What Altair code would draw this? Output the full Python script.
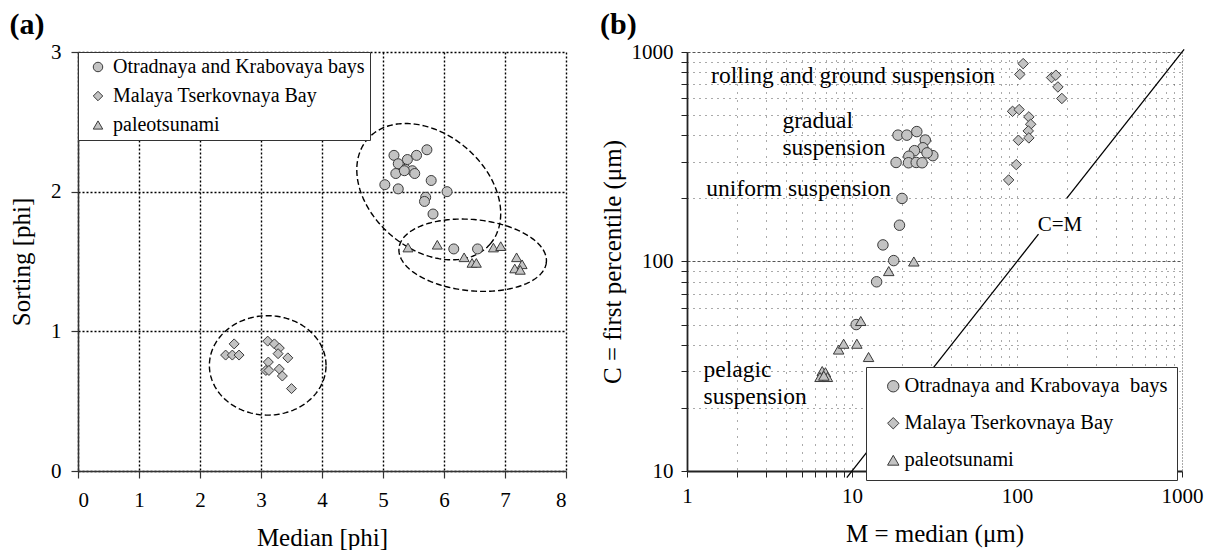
import altair as alt
import numpy as np
import pandas as pd

FONT = "Liberation Serif"

# ---------------- Panel (a) data: Median [phi] vs Sorting [phi] ----------------
SERIES_A = ["Otradnaya and Krabovaya bays", "Malaya Tserkovnaya Bay", "paleotsunami"]
SHAPES = ["circle", "diamond", "triangle-up"]

A_CIRC_X = [5.18, 5.40, 5.55, 5.72, 5.25, 5.37, 5.48, 5.21, 5.52, 5.35, 5.03, 5.25,
            5.79, 6.05, 5.70, 5.68, 5.82, 6.16, 6.55]
A_CIRC_Y = [2.26, 2.23, 2.26, 2.30, 2.20, 2.16, 2.15, 2.13, 2.13, 2.15, 2.05, 2.02,
            2.08, 2.00, 1.96, 1.93, 1.84, 1.59, 1.59]

A_DIAM_X = [2.56, 2.42, 2.53, 2.64, 3.11, 3.22, 3.30, 3.28, 3.44, 3.12, 3.08, 3.13,
            3.30, 3.35, 3.50]
A_DIAM_Y = [0.91, 0.83, 0.83, 0.83, 0.93, 0.91, 0.88, 0.84, 0.81, 0.78, 0.72, 0.72,
            0.73, 0.68, 0.59]

A_TRI_X = [5.41, 5.89, 6.33, 6.46, 6.53, 6.81, 6.93, 7.19, 7.28, 7.16, 7.25]
A_TRI_Y = [1.60, 1.62, 1.53, 1.49, 1.49, 1.60, 1.61, 1.53, 1.48, 1.45, 1.44]

A_TICKS_X = [0, 1, 2, 3, 4, 5, 6, 7, 8]
A_TICKS_Y = [0, 1, 2, 3]

# dashed ellipses: centre, and two conjugate half-axis vectors (data units)
ELL_CX = [5.75, 6.47, 3.11]
ELL_CY = [2.00, 1.545, 0.756]
ELL_UX = [1.012, 1.208, 0.956]
ELL_UY = [-0.372, -0.050, 0.0]
ELL_VX = [-0.606, -0.055, 0.0]
ELL_VY = [-0.316, -0.254, 0.356]

# ---------------- Panel (b) data: C-M diagram ----------------
SERIES_B = ["Otradnaya and Krabovaya\u00a0 bays", "Malaya Tserkovnaya Bay", "paleotsunami"]

B_CIRC_M = [19.0, 21.5, 24.7, 27.8, 26.9, 23.9, 22.1, 30.9, 18.5, 22.0, 24.5, 26.6,
            28.5, 20.1, 19.4, 15.4, 17.9, 14.1, 10.6]
B_CIRC_C = [401, 401, 417, 380, 349, 338, 318, 320, 297, 296, 297, 296,
            330, 200, 149, 120, 101, 80, 50]

B_DIAM_M = [109, 104, 162, 172, 177, 187, 94, 103, 118, 121, 117, 118, 102, 99, 89]
B_DIAM_C = [880, 782, 755, 775, 681, 600, 521, 531, 490, 452, 420, 389, 379, 290, 245]

B_TRI_M = [23.7, 16.7, 11.3, 8.3, 8.9, 10.7, 12.6, 6.6, 6.9, 6.4, 7.1, 6.75]
B_TRI_C = [100, 90, 52, 38, 40.5, 40.5, 35, 30, 29.6, 28.1, 28.1, 28.5]

B_TICKS_X = [1, 2, 3, 4, 5, 6, 7, 8, 9, 10, 20, 30, 40, 50, 60, 70, 80, 90,
             100, 200, 300, 400, 500, 600, 700, 800, 900, 1000]
B_TICKS_Y = [10, 20, 30, 40, 50, 60, 70, 80, 90, 100, 200, 300, 400, 500, 600, 700,
             800, 900, 1000]

# C = M line (two segments around its label)
CM_SEG = [0, 0, 1, 1]
CM_M = [9.3, 135, 200, 1030]
CM_C = [9.3, 135, 200, 1030]

ANN_TEXT = ["rolling and ground suspension", "gradual", "suspension",
            "uniform suspension", "pelagic", "suspension"]
ANN_M = [1.40, 3.79, 3.79, 1.31, 1.26, 1.26]
ANN_C = [771, 470, 347, 221, 30.3, 22.6]

CM_LABEL = ["C=M"]
CM_LABEL_M = [182]
CM_LABEL_C = [150]

# ---------------- build tables ----------------
def series_frame(names, xs_list, ys_list, xname, yname):
    rows = []
    for name, xs, ys in zip(names, xs_list, ys_list):
        for x, y in zip(xs, ys):
            rows.append({"series": name, xname: x, yname: y})
    return pd.DataFrame(rows)

df_a = series_frame(SERIES_A, [A_CIRC_X, A_DIAM_X, A_TRI_X],
                    [A_CIRC_Y, A_DIAM_Y, A_TRI_Y], "med", "sort")
df_b = series_frame(SERIES_B, [B_CIRC_M, B_DIAM_M, B_TRI_M],
                    [B_CIRC_C, B_DIAM_C, B_TRI_C], "M", "C")

t = np.linspace(0, 2 * np.pi, 241)
ell_rows = []
for i in range(len(ELL_CX)):
    xs = ELL_CX[i] + ELL_UX[i] * np.cos(t) + ELL_VX[i] * np.sin(t)
    ys = ELL_CY[i] + ELL_UY[i] * np.cos(t) + ELL_VY[i] * np.sin(t)
    for k, (x, y) in enumerate(zip(xs, ys)):
        ell_rows.append({"ell": i, "k": k, "med": float(x), "sort": float(y)})
df_ell = pd.DataFrame(ell_rows)

df_cm = pd.DataFrame({"seg": CM_SEG, "M": CM_M, "C": CM_C})
df_ann = pd.DataFrame({"txt": ANN_TEXT, "M": ANN_M, "C": ANN_C})
df_cml = pd.DataFrame({"txt": CM_LABEL, "M": CM_LABEL_M, "C": CM_LABEL_C})

FILL = "#c3c3c3"
EDGE = "#3a3a3a"


def legend_props(**kw):
    base = dict(title=None, orient="none", fillColor="white", strokeColor="#333",
                labelFont=FONT, labelColor="black", symbolStrokeWidth=1, labelLimit=400)
    base.update(kw)
    return alt.Legend(**base)


# ---------------- panel (a) ----------------
xa_scale = alt.Scale(domain=[0, 8], nice=False, zero=False)
ya_scale = alt.Scale(domain=[0, 3], nice=False, zero=False)

xa_axis = alt.Axis(title="Median [phi]", values=A_TICKS_X, format="d", grid=True,
                   gridColor="black", gridDash=[2, 2], gridWidth=1.4,
                   domainColor="#333", domainWidth=1.5, tickColor="#333", tickWidth=1.2,
                   tickSize=7, labelFontSize=21, titleFontSize=25, labelPadding=11,
                   titlePadding=15, labelFont=FONT, titleFont=FONT)
ya_axis = alt.Axis(title="Sorting [phi]", values=A_TICKS_Y, format="d", grid=True,
                   gridColor="black", gridDash=[2, 2], gridWidth=1.4,
                   domainColor="#333", domainWidth=1.5, tickColor="#333", tickWidth=1.2,
                   tickSize=7, labelFontSize=21, titleFontSize=25, labelPadding=10,
                   titlePadding=16, labelFont=FONT, titleFont=FONT)

leg_a = legend_props(legendX=0, legendY=0, padding=5, labelFontSize=20, symbolSize=90,
                     rowPadding=9, symbolOffset=5, labelOffset=5)

ell_a = alt.Chart(df_ell).mark_line(color="black", strokeWidth=1.4, strokeDash=[6, 3]).encode(
    x=alt.X("med:Q", scale=xa_scale, axis=xa_axis),
    y=alt.Y("sort:Q", scale=ya_scale, axis=ya_axis),
    detail="ell:N",
    order="k:Q",
)

pts_a = alt.Chart(df_a).mark_point(filled=True, size=100, strokeWidth=1, opacity=1).encode(
    x=alt.X("med:Q", scale=xa_scale),
    y=alt.Y("sort:Q", scale=ya_scale),
    shape=alt.Shape("series:N", scale=alt.Scale(domain=SERIES_A, range=SHAPES), legend=leg_a),
    fill=alt.Fill("series:N", scale=alt.Scale(domain=SERIES_A, range=[FILL] * 3), legend=leg_a),
    stroke=alt.Stroke("series:N", scale=alt.Scale(domain=SERIES_A, range=[EDGE] * 3),
                      legend=leg_a),
)

chart_a = alt.layer(ell_a, pts_a).properties(
    width=488, height=419,
    title=alt.TitleParams("(a)", anchor="start", frame="bounds", fontSize=30,
                          fontWeight="bold", font=FONT, color="black", offset=1),
)

# ---------------- panel (b) ----------------
xb_scale = alt.Scale(type="log", domain=[1, 1000], nice=False)
yb_scale = alt.Scale(type="log", domain=[10, 1000], nice=False)

DECADE_LABEL = ("(datum.value==1||datum.value==10||datum.value==100||datum.value==1000)"
                " ? format(datum.value, 'd') : ''")

xb_axis = alt.Axis(title="M = median (\u03bcm)", values=B_TICKS_X, labelExpr=DECADE_LABEL,
                   grid=True, gridColor="#555",
                   gridDash={"condition": {"test": "datum.value == 1000", "value": [1, 2]},
                             "value": [1, 7]},
                   gridWidth=1, domainColor="#222", domainWidth=1.8, tickColor="#222",
                   tickSize=6, labelFontSize=21, titleFontSize=25, labelPadding=8,
                   titlePadding=15, labelOverlap=False, labelFlush=False,
                   labelFont=FONT, titleFont=FONT)
yb_axis = alt.Axis(title="C = first percentile (\u03bcm)", values=B_TICKS_Y,
                   labelExpr=DECADE_LABEL, grid=True, gridColor="#555",
                   gridDash={"condition": {"test": "datum.value == 100 || datum.value == 1000",
                                           "value": [3, 2]},
                             "value": [1, 5]},
                   gridWidth=1, domainColor="#222", domainWidth=1.8, tickColor="#222",
                   tickSize=6, labelFontSize=21, titleFontSize=25, labelPadding=8,
                   titlePadding=6, labelOverlap=False, labelFlush=False,
                   labelFont=FONT, titleFont=FONT)

leg_b = legend_props(legendX=179, legendY=315, padding=9, labelFontSize=20.5,
                     symbolSize=130, rowPadding=16, symbolOffset=8, labelOffset=1)

cm_line = alt.Chart(df_cm).mark_line(color="black", strokeWidth=1.3, clip=False).encode(
    x=alt.X("M:Q", scale=xb_scale, axis=xb_axis),
    y=alt.Y("C:Q", scale=yb_scale, axis=yb_axis),
    detail="seg:N",
)

ann = alt.Chart(df_ann).mark_text(align="left", baseline="middle", font=FONT,
                                  fontSize=23.5, color="black").encode(
    x=alt.X("M:Q", scale=xb_scale),
    y=alt.Y("C:Q", scale=yb_scale),
    text="txt:N",
)

cml = alt.Chart(df_cml).mark_text(align="center", baseline="middle", font=FONT,
                                  fontSize=21, color="black").encode(
    x=alt.X("M:Q", scale=xb_scale),
    y=alt.Y("C:Q", scale=yb_scale),
    text="txt:N",
)

pts_b = alt.Chart(df_b).mark_point(filled=True, size=110, strokeWidth=1, opacity=1).encode(
    x=alt.X("M:Q", scale=xb_scale),
    y=alt.Y("C:Q", scale=yb_scale),
    shape=alt.Shape("series:N", scale=alt.Scale(domain=SERIES_B, range=SHAPES), legend=leg_b),
    fill=alt.Fill("series:N", scale=alt.Scale(domain=SERIES_B, range=[FILL] * 3), legend=leg_b),
    stroke=alt.Stroke("series:N", scale=alt.Scale(domain=SERIES_B, range=[EDGE] * 3),
                      legend=leg_b),
)

chart_b = alt.layer(cm_line, ann, cml, pts_b).properties(
    width=495, height=419,
    title=alt.TitleParams("(b)", anchor="start", frame="bounds", fontSize=30,
                          fontWeight="bold", font=FONT, color="black", offset=1),
)

chart = alt.hconcat(chart_a, chart_b, spacing=121, bounds="flush").resolve_scale(
    shape="independent", fill="independent", stroke="independent"
).resolve_legend(
    shape="independent", fill="independent", stroke="independent"
).properties(
    padding={"left": 9, "top": 10, "right": 5, "bottom": 2}
).configure(font=FONT).configure_view(stroke=None).configure_axis(
    labelFont=FONT, titleFont=FONT, labelColor="black", titleColor="black",
    titleFontWeight="normal"
)

chart.save("out.html", embed_options={"renderer": "svg", "actions": False})
